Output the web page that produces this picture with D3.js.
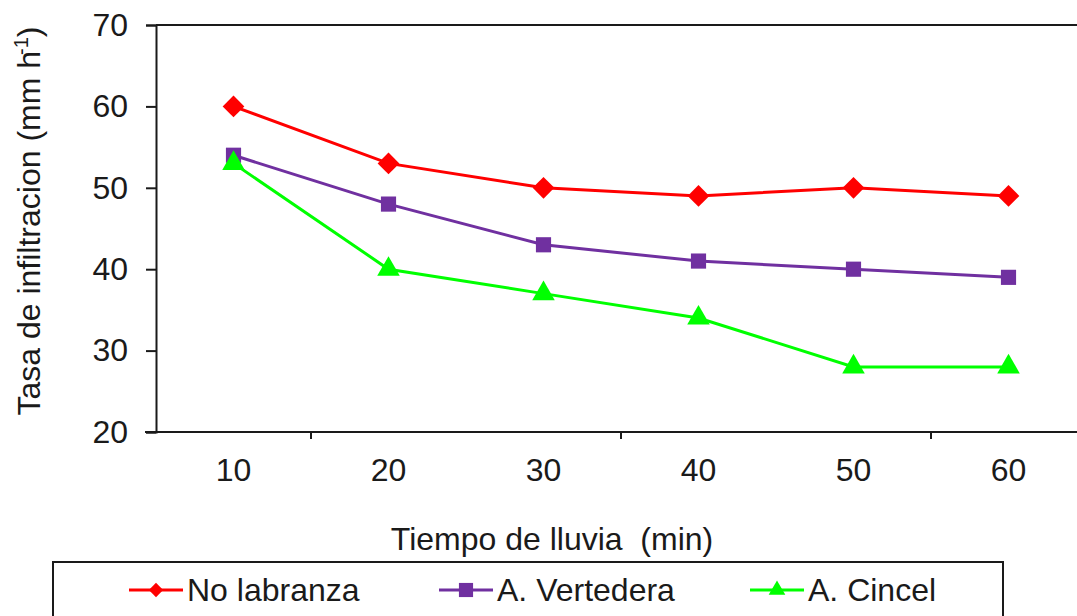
<!DOCTYPE html>
<html>
<head>
<meta charset="utf-8">
<script src="https://cdn.jsdelivr.net/npm/d3@7"></script>
<style>
  html, body { margin: 0; padding: 0; background: #ffffff; }
  text { font-family: "Liberation Sans", Arial, sans-serif; fill: #1a1a1a; white-space: pre; }
</style>
</head>
<body>
<svg id="chart" width="1077" height="616"></svg>
<script>
const categories = [10, 20, 30, 40, 50, 60];
const noLabranza = [60, 53, 50, 49, 50, 49];
const aVertedera = [54, 48, 43, 41, 40, 39];
const aCincel = [53, 40, 37, 34, 28, 28];
const yTicks = [20, 30, 40, 50, 60, 70];
const seriesNames = ["No labranza", "A. Vertedera", "A. Cincel"];
const seriesColors = ["#ff0000", "#7030a0", "#00ff00"];
const seriesSymbols = [d3.symbolDiamond2, d3.symbolSquare, d3.symbolTriangle];
const xTitle = "Tiempo de lluvia  (min)";

const svg = d3.select("#chart");
const pLeft = 156, pRight = 1086, pTop = 25, pBottom = 432;

const x = d3.scaleBand().domain(categories).range([pLeft, pRight]);
const y = d3.scaleLinear().domain([20, 70]).range([pBottom, pTop]);

// Plot frame top edge
svg.append("line").attr("x1", pLeft).attr("x2", pRight).attr("y1", pTop).attr("y2", pTop)
  .attr("stroke", "#1a1a1a").attr("stroke-width", 2);

// Y axis
const yAxis = svg.append("g").attr("transform", `translate(${pLeft},0)`)
  .call(d3.axisLeft(y).tickValues(yTicks).tickSize(10).tickPadding(18).tickFormat(d3.format("d")));
yAxis.select(".domain").attr("stroke", "#1a1a1a").attr("stroke-width", 2);
yAxis.selectAll(".tick line").attr("stroke", "#1a1a1a").attr("stroke-width", 2);
yAxis.selectAll(".tick text").attr("font-size", 32).attr("fill", "#1a1a1a")
  .attr("font-family", "Liberation Sans, Arial, sans-serif");

// X axis
const xAxis = svg.append("g").attr("transform", `translate(0,${pBottom})`)
  .call(d3.axisBottom(x).tickSize(0).tickPadding(26));
xAxis.select(".domain").remove();
svg.append("line").attr("x1", pLeft - 11).attr("x2", pRight).attr("y1", pBottom).attr("y2", pBottom)
  .attr("stroke", "#1a1a1a").attr("stroke-width", 2);
xAxis.selectAll(".tick text").attr("font-size", 32).attr("fill", "#1a1a1a")
  .attr("font-family", "Liberation Sans, Arial, sans-serif");
// Tick marks between every other category
const boundaries = categories.slice(1).map(c => x(c)).filter((b, i) => i % 2 === 0);
svg.selectAll(".xtickmark").data(boundaries).enter().append("line")
  .attr("x1", d => d).attr("x2", d => d).attr("y1", pBottom).attr("y2", pBottom + 7)
  .attr("stroke", "#1a1a1a").attr("stroke-width", 2);

// Axis titles
svg.append("text").attr("x", 552).attr("y", 550).attr("text-anchor", "middle")
  .attr("font-size", 32).text(xTitle);

const yl = svg.append("text").attr("transform", "translate(40,221) rotate(-90)")
  .attr("text-anchor", "middle").attr("font-size", 32);
yl.append("tspan").text("Tasa de infiltracion (mm h");
yl.append("tspan").attr("font-size", 20).attr("dy", -12).attr("dx", -4).text("-1");
yl.append("tspan").attr("dy", 12).text(")");

// Series
const allSeries = [noLabranza, aVertedera, aCincel];
const line = d3.line().x((d, i) => x(categories[i]) + x.bandwidth() / 2).y(d => y(d));
const markerSizes = [300, 230, 220];
allSeries.forEach((vals, s) => {
  svg.append("path").datum(vals).attr("d", line).attr("fill", "none")
    .attr("stroke", seriesColors[s]).attr("stroke-width", 3);
  svg.selectAll(".m" + s).data(vals).enter().append("path")
    .attr("transform", (d, i) => `translate(${x(categories[i]) + x.bandwidth() / 2},${y(d)})`)
    .attr("d", d3.symbol().type(seriesSymbols[s]).size(markerSizes[s]))
    .attr("fill", seriesColors[s]);
});

// Legend
svg.append("rect").attr("x", 53).attr("y", 562).attr("width", 950).attr("height", 80)
  .attr("fill", "none").attr("stroke", "#1a1a1a").attr("stroke-width", 2);
const legendX = [129, 439, 750];
const legendSym = [130, 200, 120];
seriesNames.forEach((name, s) => {
  const g = svg.append("g").attr("transform", `translate(${legendX[s]},590)`);
  g.append("line").attr("x1", 0).attr("x2", 54).attr("y1", 0).attr("y2", 0)
    .attr("stroke", seriesColors[s]).attr("stroke-width", 3);
  g.append("path").attr("transform", "translate(27,0)")
    .attr("d", d3.symbol().type(seriesSymbols[s]).size(legendSym[s])).attr("fill", seriesColors[s]);
  g.append("text").attr("x", 58).attr("y", 11).attr("font-size", 32).text(name);
});
</script>
</body>
</html>
